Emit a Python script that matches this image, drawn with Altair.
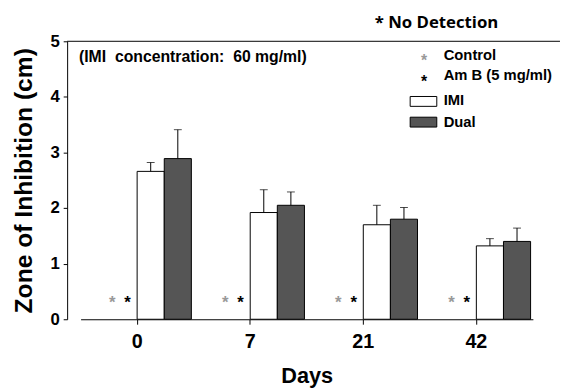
import altair as alt
import pandas as pd

# ---- data ----
days = ["0", "7", "21", "42"]
series = ["Control", "Am B (5 mg/ml)", "IMI", "Dual"]
imi = [2.66, 1.92, 1.70, 1.32]
imi_err = [0.16, 0.41, 0.35, 0.13]
dual = [2.89, 2.05, 1.80, 1.40]
dual_err = [0.52, 0.24, 0.21, 0.24]
nd_level = 0.37  # height at which "no detection" asterisks are drawn

W, H = 500, 282
FONT = "Liberation Sans"

bars = pd.DataFrame({
    "day": days * 2,
    "series": ["IMI"] * 4 + ["Dual"] * 4,
    "value": imi + dual,
    "err": imi_err + dual_err,
})
bars["upper"] = bars["value"] + bars["err"]

nd = pd.DataFrame({
    "day": days * 2,
    "series": ["Control"] * 4 + ["Am B (5 mg/ml)"] * 4,
    "y": [nd_level] * 8,
})

xscale = alt.Scale(domain=days, range=[13.65, 472.5], paddingInner=0, paddingOuter=0)
xoff = alt.Scale(domain=series, paddingInner=0, paddingOuter=0.085)
yscale = alt.Scale(domain=[0, 5], nice=False)

x_enc = alt.X("day:N", scale=xscale, sort=days, axis=alt.Axis(
    title="Days", labelAngle=0, labelFont=FONT, labelFontSize=20, labelFontWeight="bold",
    labelColor="black", titleFont=FONT, titleFontSize=22, titleFontWeight="bold",
    titleColor="black", domainColor="black", tickColor="black", tickSize=5,
    labelPadding=8, titlePadding=14))

y_axis = alt.Axis(
    title="Zone of Inhibition (cm)", values=[i * 0.5 for i in range(11)],
    labelExpr="datum.value % 1 === 0 ? format(datum.value, 'd') : ''",
    labelFont=FONT, labelFontSize=17, labelFontWeight="bold", labelColor="black",
    titleFont=FONT, titleFontSize=25, titleFontWeight="bold", titleColor="black",
    domainColor="black", tickColor="black",
    tickSize={"condition": {"test": "datum.value % 1 === 0", "value": 4}, "value": 2},
    labelPadding=4, titlePadding=14, grid=False)

color_scale = alt.Scale(domain=["IMI", "Dual"], range=["#ffffff", "#555555"])

bar = alt.Chart(bars).mark_bar(stroke="black", strokeWidth=1).encode(
    x=x_enc,
    xOffset=alt.XOffset("series:N", scale=xoff, sort=series),
    y=alt.Y("value:Q", scale=yscale, axis=y_axis),
    fill=alt.Fill("series:N", scale=color_scale, legend=None),
)

err = alt.Chart(bars).mark_rule(color="black", strokeWidth=1).encode(
    x=alt.X("day:N", scale=xscale, sort=days),
    xOffset=alt.XOffset("series:N", scale=xoff, sort=series),
    y="value:Q",
    y2="upper:Q",
)
cap = alt.Chart(bars).mark_tick(color="black", thickness=1, size=8, orient="horizontal").encode(
    x=alt.X("day:N", scale=xscale, sort=days),
    xOffset=alt.XOffset("series:N", scale=xoff, sort=series),
    y="upper:Q",
)

ctrl_star = alt.Chart(nd[nd.series == "Control"]).mark_text(
    text="*", font=FONT, fontSize=17, fontWeight="bold", color="#999999", dx=16, dy=9,
    baseline="alphabetic").encode(
    x=alt.X("day:N", scale=xscale, sort=days),
    xOffset=alt.XOffset("series:N", scale=xoff, sort=series),
    y="y:Q",
)
amb_star = alt.Chart(nd[nd.series != "Control"]).mark_text(
    text="*", font=FONT, fontSize=17, fontWeight="bold", color="black", dx=4, dy=9,
    baseline="alphabetic").encode(
    x=alt.X("day:N", scale=xscale, sort=days),
    xOffset=alt.XOffset("series:N", scale=xoff, sort=series),
    y="y:Q",
)

top_line = alt.Chart(pd.DataFrame({"y": [5]})).mark_rule(color="black", strokeWidth=1).encode(
    y="y:Q", x=alt.value(0), x2=alt.value(W))

one = pd.DataFrame({"k": [0]})


def txt(s, x, y, size=14, align="left", color="black", font=FONT):
    return alt.Chart(one).mark_text(
        text=s, font=font, fontSize=size, fontWeight="bold", align=align,
        baseline="middle", color=color).encode(x=alt.value(x), y=alt.value(y))


def box(x, x2, y, y2, fill):
    return alt.Chart(one).mark_rect(fill=fill, stroke="black", strokeWidth=1).encode(
        x=alt.value(x), x2=alt.value(x2), y=alt.value(y), y2=alt.value(y2))


legend = [
    txt("*", 362, 20, size=16, align="center", color="#999999"),
    txt("Control", 382, 14, size=15),
    txt("*", 362, 41, size=16, align="center"),
    txt(series[1], 382, 34, size=15),
    box(348, 375, 56, 66, "#ffffff"),
    txt("IMI", 382, 60, size=15),
    box(348, 375, 77, 87, "#555555"),
    txt("Dual", 382, 82, size=15),
    txt("(IMI\u00a0\u00a0concentration:\u00a0\u00a060\u00a0mg/ml)", 12, 16, size=16),
    txt("* No Detection", 312, -18, size=17, font="Open Sans"),
]

chart = alt.layer(bar, err, cap, ctrl_star, amb_star, top_line, *legend).properties(
    width=W, height=H,
    autosize=alt.AutoSizeParams(type="none"),
    padding={"left": 60, "top": 31, "right": 0, "bottom": 70},
).configure_view(stroke=None)

chart.save("out.html", embed_options={"renderer": "svg", "actions": False})
